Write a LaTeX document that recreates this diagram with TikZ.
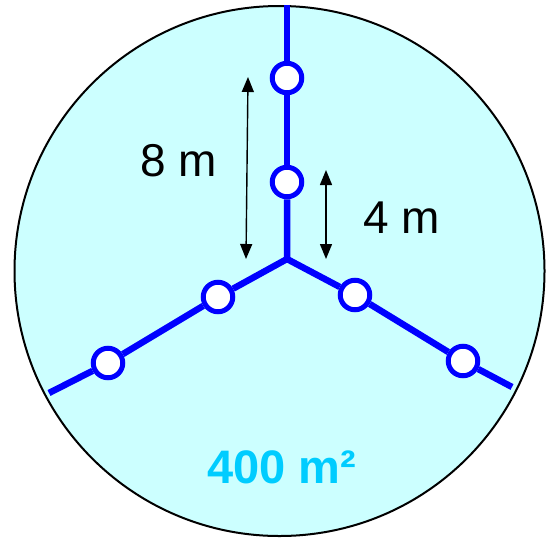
\documentclass[tikz,border=0pt]{standalone}
\usepackage{fontspec}
\setmainfont{Liberation Sans}
\usetikzlibrary{arrows.meta}
\definecolor{fieldfill}{RGB}{204,255,255}
\definecolor{areatext}{RGB}{0,204,255}
\definecolor{pipeblue}{RGB}{0,0,255}
\tikzset{
  pipe/.style={draw=pipeblue, line width=6.5pt},
  well/.style={circle, draw=pipeblue, fill=white, line width=5pt, minimum size=29.5pt, inner sep=0pt},
  dim/.style={line width=1.4pt, {Triangle[width=12pt,length=15pt]}-{Triangle[width=12pt,length=15pt]}},
  lbl/.style={font=\fontsize{46}{55}\selectfont, inner sep=0pt},
}
\begin{document}
\begin{tikzpicture}[x=1pt,y=-1pt]
\useasboundingbox (0,0) rectangle (548,541);
\node[circle, draw=black, fill=fieldfill, line width=2pt, minimum size=530pt, inner sep=0pt] (field) at (279.5,271) {};
\coordinate (J) at (287,259);
\coordinate (T) at (287,5);
\coordinate (L) at (49,393);
\coordinate (R) at (512,387);
\node[well] (t1) at (287,78) {};
\node[well] (t2) at (287,182) {};
\node[well] (l1) at (218,297) {};
\node[well] (l2) at (108,363) {};
\node[well] (r1) at (355,295) {};
\node[well] (r2) at (463,361) {};
\draw[pipe] (T) -- (t1);
\draw[pipe] (t1) -- (t2);
\draw[pipe, line join=miter] (t2) -- (J) -- (l1);
\draw[pipe, line join=miter] (J) -- (r1);
\draw[pipe] (l1) -- (l2);
\draw[pipe] (l2) -- (L);
\draw[pipe] (r1) -- (r2);
\draw[pipe] (r2) -- (R);
\coordinate (a1) at (248,77);
\coordinate (a2) at (246,259);
\coordinate (b1) at (326,170);
\coordinate (b2) at (326,259);
\draw[dim] (a1) -- (a2);
\draw[dim] (b1) -- (b2);
\node[lbl] (eight) at (179,161) {8 m};
\node[lbl] (four) at (402,218) {4 m};
\node[lbl, font=\fontsize{47}{56}\selectfont\bfseries, text=areatext, anchor=base] (area) at (281.5,483) {400 m²};
\end{tikzpicture}
\end{document}
